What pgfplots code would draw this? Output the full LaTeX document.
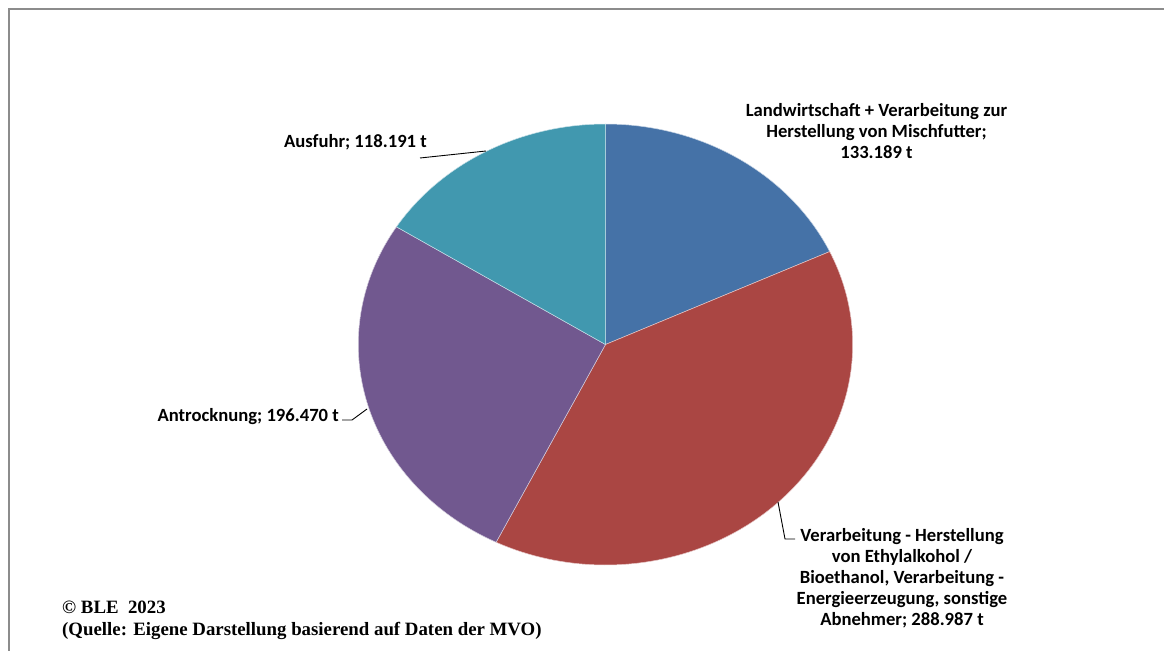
\documentclass[border=0pt]{standalone}
\usepackage{pgfplots}
\pgfplotsset{compat=1.18}
\usepackage{fontspec}
\setmainfont{Carlito}
\newfontfamily\timesfont{Liberation Serif}
\definecolor{cA}{HTML}{4572A7}
\definecolor{cB}{HTML}{AA4643}
\definecolor{cC}{HTML}{71588F}
\definecolor{cD}{HTML}{4198AF}
% values in 1000 t
\def\vA{133.189}% Landwirtschaft + Verarbeitung Mischfutter
\def\vB{288.987}% Verarbeitung Ethylalkohol/Bioethanol, Energie, sonstige
\def\vC{196.470}% Antrocknung
\def\vD{118.191}% Ausfuhr
\pgfmathsetmacro\vT{\vA+\vB+\vC+\vD}
\pgfmathsetmacro\aA{90}
\pgfmathsetmacro\aB{\aA-360*(\vA/\vT)}
\pgfmathsetmacro\aC{\aB-360*(\vB/\vT)}
\pgfmathsetmacro\aD{\aC-360*(\vC/\vT)}
\pgfmathsetmacro\aE{\aD-360*(\vD/\vT)}
\def\cx{605.5}
\def\cy{344.5}
\def\rx{247.2}
\def\ry{220.5}
\begin{document}
\begin{tikzpicture}
\begin{axis}[
  scale only axis, width=1164bp, height=651bp,
  xmin=0, xmax=1164, ymin=0, ymax=651, y dir=reverse,
  hide axis, clip=false,
]
\addplot[fill=cA, draw=white!70!cA, line width=0.5bp, domain=\aB:\aA, samples=80, variable=\t]
  ({\cx+\rx*cos(t)},{\cy-\ry*sin(t)}) -- (axis cs:\cx,\cy) -- cycle;
\addplot[fill=cB, draw=white!70!cB, line width=0.5bp, domain=\aC:\aB, samples=120, variable=\t]
  ({\cx+\rx*cos(t)},{\cy-\ry*sin(t)}) -- (axis cs:\cx,\cy) -- cycle;
\addplot[fill=cC, draw=white!70!cC, line width=0.5bp, domain=\aD:\aC, samples=100, variable=\t]
  ({\cx+\rx*cos(t)},{\cy-\ry*sin(t)}) -- (axis cs:\cx,\cy) -- cycle;
\addplot[fill=cD, draw=white!70!cD, line width=0.5bp, domain=\aE:\aD, samples=80, variable=\t]
  ({\cx+\rx*cos(t)},{\cy-\ry*sin(t)}) -- (axis cs:\cx,\cy) -- cycle;
% frame
\draw[black!45, line width=1.5bp] (axis cs:9,651) -- (axis cs:9,9) -- (axis cs:1164,9);
% leader lines
\draw[black, line width=0.9bp] (axis cs:420,158) -- (axis cs:486,151);
\draw[black, line width=0.9bp] (axis cs:342,420) -- (axis cs:352,420) -- (axis cs:367,409);
\draw[black, line width=0.9bp] (axis cs:778,502) -- (axis cs:785,539) -- (axis cs:795,539);
% labels
\tikzset{lbl/.style={inner sep=0pt, font=\bfseries\fontsize{18.7}{21}\selectfont, align=center}}
\node[lbl] at (axis cs:876.5,131) {Landwirtschaft + Verarbeitung zur\\Herstellung von Mischfutter;\\133.189 t};
\node[lbl, anchor=east] at (axis cs:427,142) {Ausfuhr; 118.191 t};
\node[lbl, anchor=east] at (axis cs:339,417) {Antrocknung; 196.470 t};
\node[lbl] at (axis cs:902,578) {Verarbeitung - Herstellung\\von Ethylalkohol /\\Bioethanol, Verarbeitung -\\Energieerzeugung, sonstige\\Abnehmer; 288.987 t};
\node[inner sep=0pt, anchor=west, align=left, font=\timesfont\bfseries\fontsize{18.9}{22}\selectfont] at (axis cs:62,620) {\textcopyright{} BLE\ \ 2023\\(Quelle: Eigene Darstellung basierend auf Daten der MVO)};
\end{axis}
\pgfresetboundingbox
\path[use as bounding box] (0,0) rectangle (1164bp,651bp);
\end{tikzpicture}
\end{document}
